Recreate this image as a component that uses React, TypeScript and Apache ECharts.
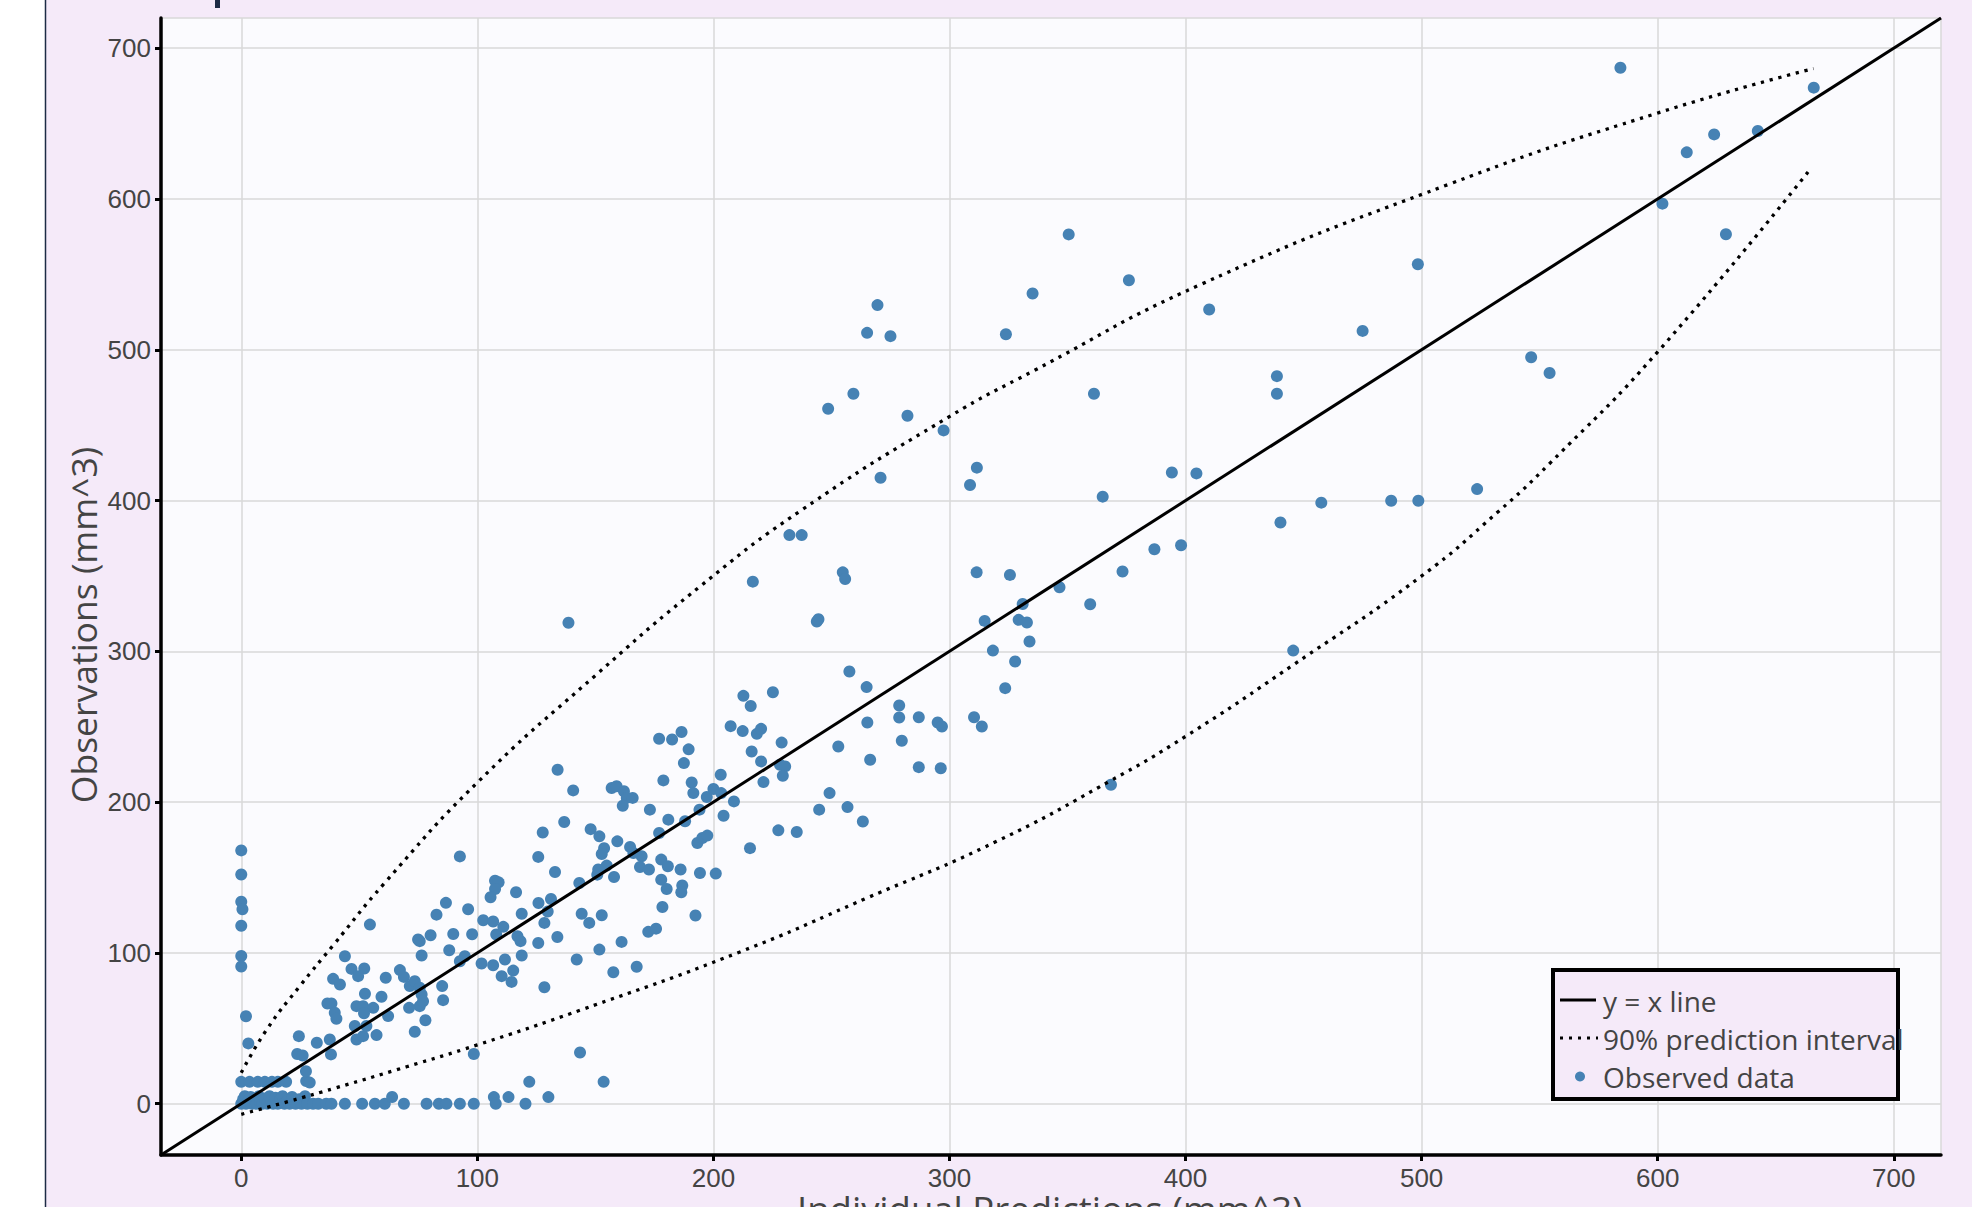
import React, { useEffect, useRef } from 'react';
import * as echarts from 'echarts';

// Individual predictions (x) and observations (y)
const predicted: number[] = [
  0, 0, 0, 0.5, 0, 0, 0, 2, 3,
  0, 3.5, 7, 10, 13, 15.5, 19, 27.5, 29, 122, 153.5,
  0, 0.8, 1.5, 2, 3, 4, 4.5, 5.5, 6.5, 7.5, 8, 9, 10, 11, 12, 12.8, 13.5, 14.5, 15.5, 16.5, 17.5, 18.3, 19.5, 20.5, 21.5, 23, 24.5, 25.5, 27, 28,
  30.4, 32.6, 36, 38.2, 43.9, 51.2, 56.6, 60.8, 63.9, 68.9, 78.5, 83.7, 86.9, 92.6, 98.5, 107, 107.8, 113.2, 120.4, 130.1,
  27.4, 23.7, 26, 24.4, 32, 37.5, 38, 98.5, 143.5,
  54.5, 43.9, 46.7, 52.1, 49.5, 38.9, 41.8, 36.5, 38.2, 39.6, 40.3, 52.4, 48.8, 51.6, 59.4, 61.2, 55.9, 52, 53, 48.8,
  51.6, 57.3, 48.1, 62.2, 67.2, 68.9, 71.4, 73.5, 75.6, 76.4, 75.6, 71.1, 77, 78, 73.5, 74.9, 75.6, 76.4, 80.2, 82.7,
  86.7, 85.1, 85.5, 88.1, 89.8, 96.1, 97.8,
  134, 140.6, 187.5, 178.8, 190.8, 191.5, 156.9, 159, 162.1, 163.3, 165.8, 161.6, 173.1, 180.9, 188, 197.2, 200, 203.3, 203.1, 208.7,
  204.3, 194.1, 148, 151.7, 153.7, 152.7, 159.3, 164.7, 166.1, 169.6, 168.9, 172.7, 136.8, 127.7, 125.8, 132.9, 150.8, 154.8, 157.9, 151.2,
  143.2, 177, 177.9, 180.7, 177.9, 180.2, 186.1, 186.8, 186.4, 193.2, 195.3, 197.4, 194.3, 201, 178.4, 192.4, 172.4, 175.7, 161.1, 151.7,
  142.1, 157.6, 167.5, 144.2, 147.4, 152.7, 133.9, 125.8, 128.4, 107.5, 109, 107.5, 105.6, 116.4, 125.9, 131.2, 129.8, 128.4, 118.8, 102.5,
  106.7, 111, 108, 117, 118.3, 118.8, 101.8, 106.7, 111.7, 115.2, 110.3, 114.5, 92.6, 94.7, 92.6,
  212.7, 215.8, 225.2, 207.3, 212.4, 218.4, 220.2, 228.9, 216.2, 220.2, 228.2, 230.4, 229.4, 221.2, 243.8, 244.5, 257.6, 264.9, 252.9, 265.2,
  266.4, 278.7, 278.7, 287, 295, 296.8, 279.8, 310.4, 313.7, 287, 296.3, 314.9, 318.4, 249.2, 244.8, 256.8, 263.3, 227.5, 235.3, 215.5,
  269.5, 265.1, 275, 248.6, 259.3, 282.2, 297.5, 270.8, 232.2, 237.4, 216.7, 254.8, 255.8, 335.2, 323.9, 376, 361.2, 311.6, 308.7, 311.5,
  394.2, 404.6, 364.9, 325.6, 346.6, 331, 329.3, 332.8, 333.9, 327.8, 323.6, 359.6, 373.3, 386.8, 398.1, 440.2, 457.5, 487.1, 498.6, 523.5,
  445.6, 368.4,
  138.6, 438.7, 438.7, 410, 475, 498.4, 177, 182.5, 186.5, 189.5, 350.5,
  584.2, 666.1, 612.3, 623.9, 642.4, 602, 628.9, 546.4, 554.2,
];
const observed: number[] = [
  168, 152, 134, 129, 118, 98, 91, 58, 40,
  14.5, 14.5, 14.5, 14.5, 14.5, 14.5, 14.5, 15, 14, 14.5, 14.5,
  0, 3, 5, 0, 2, 4.5, 0, 3, 0, 5, 1.5, 0, 3.5, 0, 5, 2, 0, 4, 0, 3, 5, 0, 2, 0, 4.5, 0, 3, 0, 5, 0,
  0, 0, 0, 0, 0, 0, 0, 0, 4.5, 0, 0, 0, 0, 0, 0, 4.4, 0, 4.4, 0, 4.4,
  21.6, 33, 32, 44.8, 40.4, 42.6, 32.7, 33, 34,
  118.8, 97.8, 89.4, 89.7, 84.6, 82.8, 79.1, 66.5, 66.5, 60.3, 56.3, 72.9, 64.7, 64.7, 70.9, 83.5, 63.6, 60, 51.5, 42.6,
  44.8, 45.5, 51.5, 58.1, 88.6, 84.1, 78, 81.3, 76.9, 72.4, 64.7, 63.6, 68, 55.4, 47.7, 108.9, 107.8, 98.3, 111.7, 125.4,
  133.2, 78, 68.7, 101.8, 112.6, 129, 112.4,
  221.5, 207.8, 225.9, 214.4, 213, 206, 209.4, 210.5, 207.2, 202.8, 202.8, 197.6, 195, 188.4, 187.3, 203.4, 208.7, 206, 218.2, 200.5,
  191, 195, 182.1, 177.3, 169.5, 165.6, 174, 170.3, 166.3, 164.1, 157, 155.3, 186.8, 179.9, 163.7, 153.7, 151.9, 157.9, 150.4, 155.3,
  146.4, 179.5, 161.9, 157.5, 148.6, 142.4, 155.3, 144.7, 140.2, 172.9, 176.2, 177.8, 153, 152.6, 130.5, 124.8, 114, 116.1, 107.3, 102.2,
  95.6, 87.2, 90.8, 126, 119.9, 125, 110.6, 106.6, 77.2, 147.9, 146.8, 142.4, 136.9, 140.2, 133.1, 135.8, 127.4, 119.9, 126, 121.7,
  120.8, 117.3, 112.2, 111.1, 107.8, 98.3, 93, 91.8, 95.6, 88.3, 84.6, 80.8, 94.5, 97.8, 164,
  270.5, 263.8, 272.9, 250.4, 247.1, 245.3, 248.6, 239.5, 233.6, 227, 224.8, 223.7, 217.5, 213.3, 319.8, 321.3, 286.6, 276.3, 236.9, 252.8,
  228.1, 264.1, 256.1, 256.3, 252.8, 250.2, 240.7, 256.3, 250.2, 223.2, 222.5, 320.2, 300.5, 206, 195, 196.7, 187.2, 181.3, 180.2, 169.5,
  529.6, 511.2, 509, 460.9, 470.8, 456.2, 446.5, 415.1, 377.1, 377.1, 346.2, 352.4, 348, 537.3, 510.3, 546.1, 470.8, 421.8, 410.3, 352.4,
  418.6, 418, 402.6, 350.7, 342.5, 331.4, 320.9, 319.1, 306.5, 293.3, 275.6, 331.2, 352.9, 367.7, 370.4, 385.4, 398.6, 399.9, 399.9, 407.6,
  300.5, 211.5,
  319, 482.5, 470.8, 526.7, 512.5, 556.7, 242, 241.5, 246.5, 235, 576.5,
  687, 673.8, 630.9, 642.8, 645.1, 596.9, 576.6, 495, 484.6,
];

// 90% prediction interval bounds
const upperX: number[] = [0, 10.7, 24.8, 38.9, 60.8, 100, 150, 194.3, 236.7, 300.3, 335.6, 406, 512, 600, 666];
const upperY: number[] = [20.5, 49, 78, 105, 146.5, 213, 284, 343, 393, 456, 486, 543, 610, 657, 686.5];
const lowerX: number[] = [0, 20, 40, 70, 100, 143.5, 211, 265, 320, 368, 400, 445.6, 500, 532, 554.5, 600, 665];
const lowerY: number[] = [-7, 1.5, 10.5, 24.5, 39, 62, 100.5, 136.4, 174, 214, 243.6, 291, 350, 392, 425, 498.6, 620.5];

const axisRange: number[] = [-34, 720];
const legendLabels: string[] = ['y = x line', '90% prediction interval', 'Observed data'];
const xTitle = 'Individual Predictions (mm^3)';
const yTitle = 'Observations (mm^3)';

const LAVENDER = '#f5eaf9';
const BLUE = '#4682b4';

function makeAxis() {
  return {
    type: 'value',
    min: axisRange[0],
    max: axisRange[1],
    splitNumber: 8,
    minInterval: 100,
    maxInterval: 100,
    axisLine: { show: true, onZero: false, lineStyle: { color: '#000', width: 3.5 } },
    axisTick: { show: true, length: 6, lineStyle: { color: '#000', width: 3 } },
    axisLabel: {
      color: '#444',
      fontSize: 26,
      fontFamily: 'Liberation Sans',
      margin: 10,
      showMinLabel: false,
      showMaxLabel: false,
      formatter: (v: number) => (Math.abs(v % 100) < 1e-9 ? String(v) : ''),
    },
    splitLine: { show: true, lineStyle: { color: '#d8d8d8', width: 1.5 } },
  };
}

export default function App() {
  const ref = useRef<HTMLDivElement>(null);

  useEffect(() => {
    if (!ref.current) return;
    const chart = echarts.init(ref.current, undefined, { renderer: 'svg' });
    const scatterData = predicted.map((x, i) => [x, observed[i]]);
    const upperData = upperX.map((x, i) => [x, upperY[i]]);
    const lowerData = lowerX.map((x, i) => [x, lowerY[i]]);
    const textStyle = { fontFamily: 'Open Sans', fill: '#444' };
    const dotted = { color: '#000', width: 3.3, type: [3.3, 5.7] };

    const option: any = {
      animation: false,
      backgroundColor: LAVENDER,
      grid: {
        left: 161,
        right: 31,
        top: 18,
        bottom: 52,
        show: true,
        backgroundColor: '#fbfbfe',
        borderWidth: 0,
      },
      xAxis: makeAxis(),
      yAxis: makeAxis(),
      series: [
        {
          type: 'scatter',
          name: legendLabels[2],
          data: scatterData,
          symbolSize: 12,
          itemStyle: { color: BLUE, opacity: 1 },
          z: 3,
        },
        {
          type: 'line',
          name: legendLabels[0],
          data: [
            [axisRange[0], axisRange[0]],
            [axisRange[1], axisRange[1]],
          ],
          showSymbol: false,
          symbol: 'none',
          lineStyle: { color: '#000', width: 3 },
          z: 4,
        },
        {
          type: 'line',
          name: legendLabels[1],
          data: upperData,
          smooth: 0.5,
          symbol: 'none',
          lineStyle: dotted,
          z: 4,
        },
        {
          type: 'line',
          name: legendLabels[1] + ' lower',
          data: lowerData,
          smooth: 0.5,
          symbol: 'none',
          lineStyle: dotted,
          z: 4,
        },
      ],
      graphic: [
        { type: 'rect', z: 100, shape: { x: 0, y: 0, width: 45, height: 1207 }, style: { fill: '#ffffff' } },
        { type: 'line', z: 100, shape: { x1: 45.5, y1: 0, x2: 45.5, y2: 1207 }, style: { stroke: '#1d2b45', lineWidth: 1.5 } },
        { type: 'rect', z: 100, shape: { x: 215, y: 0, width: 5, height: 8 }, style: { fill: '#1d2b45' } },
        {
          type: 'text', z: 100, x: 83, y: 625, rotation: Math.PI / 2,
          style: { ...textStyle, text: yTitle, fontSize: 35.5, align: 'center', verticalAlign: 'middle' },
        },
        {
          type: 'text', z: 100, x: 1050, y: 1209,
          style: { ...textStyle, text: xTitle, fontSize: 36.5, align: 'center', verticalAlign: 'middle' },
        },
        { type: 'rect', z: 100, shape: { x: 1553, y: 970, width: 345, height: 129 }, style: { fill: LAVENDER, stroke: '#000', lineWidth: 4 } },
        { type: 'line', z: 101, shape: { x1: 1560, y1: 1000, x2: 1596, y2: 1000 }, style: { stroke: '#000', lineWidth: 2.8 } },
        { type: 'line', z: 101, shape: { x1: 1560, y1: 1038, x2: 1598, y2: 1038 }, style: { stroke: '#000', lineWidth: 3, lineDash: [3, 6] } },
        { type: 'circle', z: 101, shape: { cx: 1580, cy: 1076.5, r: 5 }, style: { fill: BLUE } },
        { type: 'text', z: 102, x: 1603, y: 1001, style: { ...textStyle, text: legendLabels[0], fontSize: 28, verticalAlign: 'middle' } },
        { type: 'text', z: 102, x: 1603, y: 1039, style: { ...textStyle, text: legendLabels[1], fontSize: 28, verticalAlign: 'middle' } },
        { type: 'text', z: 102, x: 1603, y: 1077, style: { ...textStyle, text: legendLabels[2], fontSize: 28, verticalAlign: 'middle' } },
      ],
    };

    chart.setOption(option);
    return () => {
      chart.dispose();
    };
  }, []);

  return (
    <div
      ref={ref}
      style={{ position: 'fixed', left: 0, top: 0, width: 1972, height: 1207 }}
    />
  );
}
